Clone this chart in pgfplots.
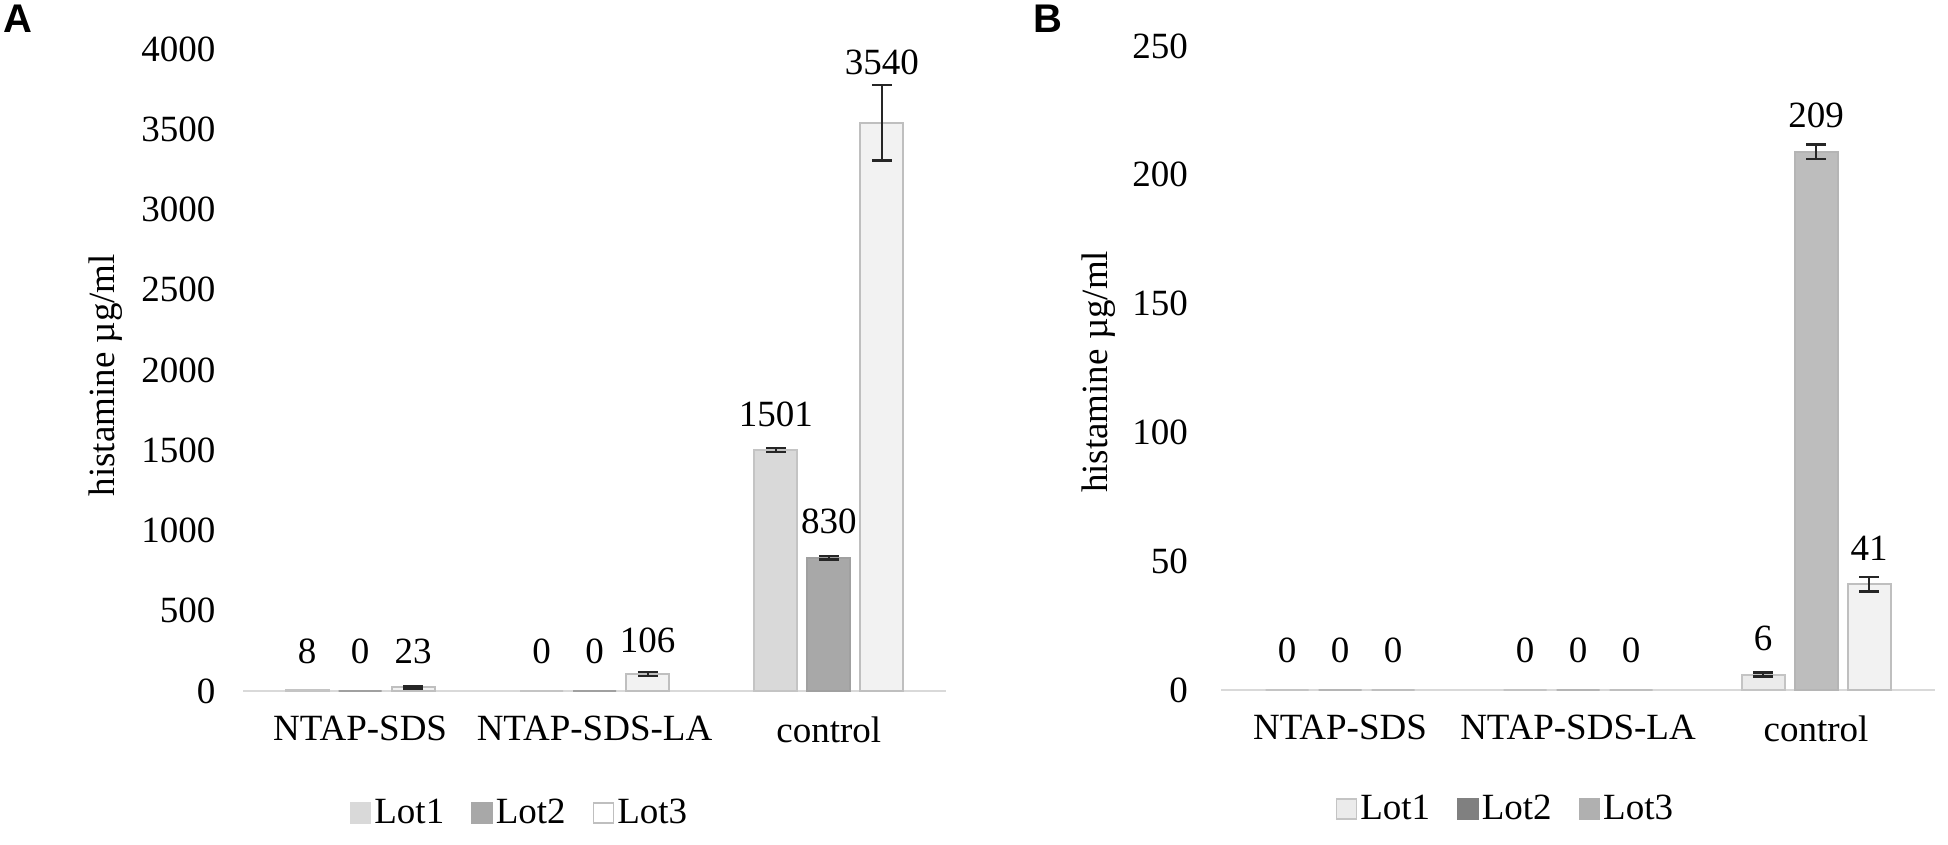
\documentclass[border=0pt]{standalone}
\usepackage{fontspec}
\setmainfont{Liberation Serif}
\newfontfamily\labelfont{Liberation Sans}
\usepackage{pgfplots}
\usepackage{pgfplotstable}
\pgfplotsset{compat=1.18}
\newcommand{\myfont}{\fontsize{18.5}{22}\selectfont}
\definecolor{basegray}{HTML}{D9D9D9}
\definecolor{aone}{HTML}{D9D9D9}
\definecolor{aoneb}{HTML}{C4C4C4}
\definecolor{atwo}{HTML}{A8A8A8}
\definecolor{atwob}{HTML}{A0A0A0}
\definecolor{athree}{HTML}{F2F2F2}
\definecolor{athreeb}{HTML}{BFBFBF}
\definecolor{bone}{HTML}{EBEBEB}
\definecolor{boneb}{HTML}{C4C4C4}
\definecolor{btwo}{HTML}{BDBDBD}
\definecolor{btwob}{HTML}{B5B5B5}
\definecolor{bthree}{HTML}{F2F2F2}
\definecolor{bthreeb}{HTML}{BFBFBF}
\definecolor{legbtwo}{HTML}{808080}
\definecolor{legbthree}{HTML}{B0B0B0}

% panel A
\pgfplotstableread{
x y off
0 8 19
1 0 20
2 1501 18
}\Aone
\pgfplotstableread{
x y off
0 0 20
1 0 20
2 830 18
}\Atwo
\pgfplotstableread{
x y off
0 23 18
1 106 17
2 3540 30
}\Athree
% panel B
\pgfplotstableread{
x y off
0 0 20
1 0 20
2 6 18
}\Bone
\pgfplotstableread{
x y off
0 0 20
1 0 20
2 209 18
}\Btwo
\pgfplotstableread{
x y off
0 0 20
1 0 20
2 41 18
}\Bthree

\pgfplotsset{
  sq/.style={legend image code/.code={\draw[#1,line width=0.8pt] (0pt,-5pt) rectangle (10pt,5pt);}},
  lbl/.style={
    nodes near coords={\pgfmathprintnumber{\pgfplotspointmeta}},
    visualization depends on={\thisrow{off}\as\myoff},
    every node near coord/.append style={anchor=center, yshift=\myoff pt, font=\myfont, text=black},
  },
  eb/.style={
    draw=none, fill=none, forget plot,
    error bars/y dir=both, error bars/y explicit,
    error bars/error bar style={line width=1pt, black!85},
    error bars/error mark options={rotate=90, mark size=5pt, line width=1.2pt, black!85},
  },
  mystyle/.style={
    scale only axis,
    font=\myfont,
    /pgf/number format/assume math mode=true,
    /pgf/number format/1000 sep={},
    ybar, bar width=21.5pt,
    xmin=-0.5, xmax=2.5,
    xtick={0,1,2}, xticklabels={NTAP-SDS,NTAP-SDS-LA,control},
    axis x line=bottom, axis y line=left,
    x axis line style={draw=basegray, line width=1pt, -},
    y axis line style={draw=none},
    major tick length=0pt, tick style={draw=none},
    tick label style={font=\myfont},
    label style={font=\myfont},
    xticklabel style={yshift=-9.2pt},
    clip=false,
    legend style={draw=none, fill=none, legend columns=3, anchor=center, font=\myfont,
      nodes={inner xsep=1.5pt},
      /tikz/every even column/.append style={column sep=12pt}},
    legend cell align=left,
  },
}

\begin{document}
\begin{tikzpicture}
\path[use as bounding box] (0,0) rectangle (974pt,422.5pt);

\begin{axis}[mystyle,
  at={(121.5pt,77pt)}, anchor=south west,
  width=351.5pt, height=321pt,
  ymin=0, ymax=4000, ytick={0,500,...,4000},
  yticklabel style={xshift=-10.3pt},
  ylabel={histamine µg/ml},
  ylabel style={at={(axis description cs:-0.195,0.492)}, anchor=center},
  legend style={at={(axis description cs:0.394,-0.190)}},
]
\addplot[lbl, forget plot, fill=aone, draw=aoneb, line width=1pt, bar shift=-26.5pt] table[x=x,y=y] {\Aone};
\addplot[lbl, forget plot, fill=atwo, draw=atwob, line width=1pt, bar shift=0pt] table[x=x,y=y] {\Atwo};
\addplot[lbl, forget plot, fill=athree, draw=athreeb, line width=1pt, bar shift=26.5pt] table[x=x,y=y] {\Athree};
\addplot[bar shift=-26.5pt, eb] coordinates {(2,1501) +- (0,12)};
\addplot[bar shift=0pt, eb] coordinates {(2,830) +- (0,10)};
\addplot[bar shift=26.5pt, eb] coordinates {(0,23) +- (0,8) (1,106) +- (0,12) (2,3540) +- (0,234)};
\addlegendimage{sq={fill=aone,draw=aone}}
\addlegendentry{Lot1}
\addlegendimage{sq={fill=atwo,draw=atwo}}
\addlegendentry{Lot2}
\addlegendimage{sq={fill=white,draw=athreeb}}
\addlegendentry{Lot3}
\end{axis}

\begin{axis}[mystyle,
  at={(610.5pt,77.5pt)}, anchor=south west,
  width=357pt, height=322pt,
  ymin=0, ymax=250, ytick={0,50,...,250},
  yticklabel style={xshift=-13pt},
  ylabel={histamine µg/ml},
  ylabel style={at={(axis description cs:-0.171,0.494)}, anchor=center},
  legend style={at={(axis description cs:0.399,-0.185)}},
]
\addplot[lbl, forget plot, fill=bone, draw=boneb, line width=1pt, bar shift=-26.5pt] table[x=x,y=y] {\Bone};
\addplot[lbl, forget plot, fill=btwo, draw=btwob, line width=1pt, bar shift=0pt] table[x=x,y=y] {\Btwo};
\addplot[lbl, forget plot, fill=bthree, draw=bthreeb, line width=1pt, bar shift=26.5pt] table[x=x,y=y] {\Bthree};
\addplot[bar shift=-26.5pt, eb] coordinates {(2,6) +- (0,0.8)};
\addplot[bar shift=0pt, eb] coordinates {(2,209) +- (0,2.8)};
\addplot[bar shift=26.5pt, eb] coordinates {(2,41) +- (0,2.8)};
\addlegendimage{sq={fill=bone,draw=boneb}}
\addlegendentry{Lot1}
\addlegendimage{sq={fill=legbtwo,draw=legbtwo}}
\addlegendentry{Lot2}
\addlegendimage{sq={fill=legbthree,draw=legbthree}}
\addlegendentry{Lot3}
\end{axis}

\node[font=\labelfont\bfseries\fontsize{20}{24}\selectfont] at (9pt,413.25pt) {A};
\node[font=\labelfont\bfseries\fontsize{20}{24}\selectfont] at (524pt,413.25pt) {B};
\end{tikzpicture}
\end{document}
